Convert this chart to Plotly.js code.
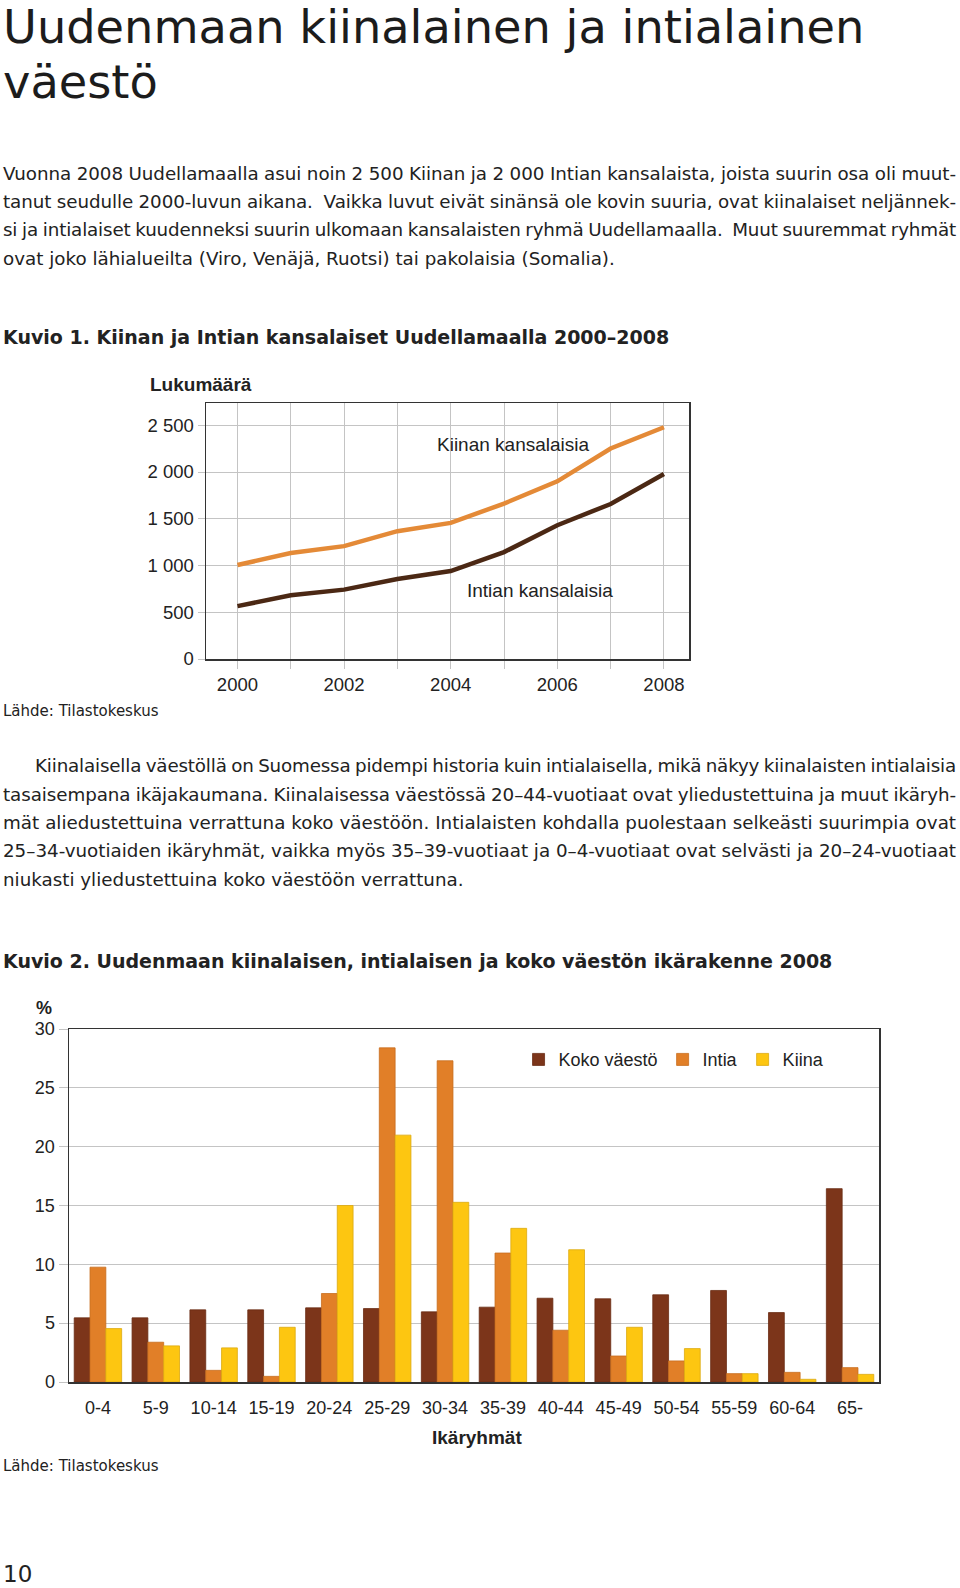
<!DOCTYPE html>
<html>
<head>
<meta charset="utf-8">
<script src="https://cdn.plot.ly/plotly-3.0.1.min.js"></script>
<style>
body { margin: 0; width: 960px; height: 1588px; position: relative; overflow: hidden; background: #fff; color: #222; font-family: "DejaVu Sans", Verdana, sans-serif; }
.t { position: absolute; left: 3px; white-space: nowrap; }
.title { font-size: 46.3px; line-height: 46px; color: #1c1c1c; }
.par { position: absolute; left: 3px; width: 953px; font-size: 18.3px; line-height: 28.33px; }
.par div { white-space: nowrap; }
.kuvio { font-weight: bold; font-size: 19px; line-height: 20px; }
.lahde { font-size: 15px; line-height: 20px; }
.chart { position: absolute; left: 0; width: 960px; }
</style>
</head>
<body>
<div class="t title" style="top:4px">Uudenmaan kiinalainen ja intialainen</div>
<div class="t title" style="top:59px">väestö</div>

<div class="par" style="top:159.6px">
<div class="j">Vuonna 2008 Uudellamaalla asui noin 2 500 Kiinan ja 2 000 Intian kansalaista, joista suurin osa oli muut-</div>
<div class="j">tanut seudulle 2000-luvun aikana.&nbsp; Vaikka luvut eivät sinänsä ole kovin suuria, ovat kiinalaiset neljännek-</div>
<div class="j">si ja intialaiset kuudenneksi suurin ulkomaan kansalaisten ryhmä Uudellamaalla.&nbsp; Muut suuremmat ryhmät</div>
<div>ovat joko lähialueilta (Viro, Venäjä, Ruotsi) tai pakolaisia (Somalia).</div>
</div>

<div class="t kuvio" style="top:327px">Kuvio 1. Kiinan ja Intian kansalaiset Uudellamaalla 2000–2008</div>
<div id="chart1" class="chart" style="top:360px;height:340px"></div>
<div class="t lahde" style="top:701px">Lähde: Tilastokeskus</div>

<div class="par" style="top:752.3px">
<div class="j" style="text-indent:32px">Kiinalaisella väestöllä on Suomessa pidempi historia kuin intialaisella, mikä näkyy kiinalaisten intialaisia</div>
<div class="j">tasaisempana ikäjakaumana. Kiinalaisessa väestössä 20–44-vuotiaat ovat yliedustettuina ja muut ikäryh-</div>
<div class="j">mät aliedustettuina verrattuna koko väestöön. Intialaisten kohdalla puolestaan selkeästi suurimpia ovat</div>
<div class="j">25–34-vuotiaiden ikäryhmät, vaikka myös 35–39-vuotiaat ja 0–4-vuotiaat ovat selvästi ja 20–24-vuotiaat</div>
<div>niukasti yliedustettuina koko väestöön verrattuna.</div>
</div>

<div class="t kuvio" style="top:951px">Kuvio 2. Uudenmaan kiinalaisen, intialaisen ja koko väestön ikärakenne 2008</div>
<div id="chart2" class="chart" style="top:985px;height:470px"></div>
<div class="t lahde" style="top:1456px">Lähde: Tilastokeskus</div>

<div class="t" style="top:1565px;font-size:23px;line-height:18px">10</div>

<script>
// justify each hand-broken line to the text column;
// lines that are too long get a bit of it from letter spacing too
document.querySelectorAll('.j').forEach(function (el) {
    el.style.display = 'inline-block';
    var w = el.getBoundingClientRect().width;
    var txt = el.textContent.trim();
    var spaces = (txt.match(/[ \u00a0]/g) || []).length;
    var extra = 953 - w;
    if (extra < 0) {
        el.style.letterSpacing = (extra * 0.6 / txt.length) + 'px';
        el.style.wordSpacing = (extra * 0.4 / spaces) + 'px';
    } else {
        el.style.wordSpacing = (extra / spaces) + 'px';
    }
    el.style.display = 'block';
});

// Kuvio 1: Kiinan ja Intian kansalaiset 2000-2008
var years = [2000, 2001, 2002, 2003, 2004, 2005, 2006, 2007, 2008];
var yearLabels = ['2000', '', '2002', '', '2004', '', '2006', '', '2008'];
var kiinanKansalaiset = [1005, 1133, 1207, 1367, 1456, 1662, 1900, 2251, 2479];
var intianKansalaiset = [565, 682, 742, 856, 941, 1143, 1431, 1658, 1978];

// Kuvio 2: ikarakenne 2008, %
var ikaryhmat = ['0-4', '5-9', '10-14', '15-19', '20-24', '25-29', '30-34', '35-39', '40-44', '45-49', '50-54', '55-59', '60-64', '65-'];
var kokoVaesto = [5.45, 5.45, 6.13, 6.13, 6.3, 6.24, 5.96, 6.36, 7.12, 7.07, 7.41, 7.78, 5.9, 16.43];
var intia = [9.76, 3.38, 0.99, 0.48, 7.52, 28.4, 27.3, 10.96, 4.4, 2.21, 1.79, 0.71, 0.82, 1.22];
var kiina = [4.54, 3.07, 2.9, 4.65, 15.0, 20.98, 15.27, 13.06, 11.24, 4.65, 2.84, 0.71, 0.23, 0.65];

var fontFamily = '"Liberation Sans", Arial, sans-serif';
var grid = '#c4c4c4';

var data1 = [{
    x: years, y: kiinanKansalaiset, mode: 'lines', name: 'Kiinan kansalaisia',
    line: {color: '#e48a37', width: 4.5}
}, {
    x: years, y: intianKansalaiset, mode: 'lines', name: 'Intian kansalaisia',
    line: {color: '#4b2814', width: 4.5}
}];

var layout1 = {
    width: 960, height: 340,
    margin: {l: 205.6, r: 271.4, t: 43, b: 41},
    font: {family: fontFamily, size: 18.5, color: '#222'},
    separators: ', ',
    showlegend: false,
    plot_bgcolor: 'white', paper_bgcolor: 'rgba(0,0,0,0)',
    xaxis: {
        range: [1999.41, 2008.47],
        tickvals: years, ticktext: yearLabels,
        showgrid: true, gridcolor: grid,
        ticks: 'outside', ticklen: 8, tickcolor: grid,
        showline: true, linecolor: '#333', linewidth: 1.5, mirror: true,
        zeroline: false
    },
    yaxis: {
        range: [0, 2738], dtick: 500, tick0: 0,
        separatethousands: true,
        showgrid: true, gridcolor: grid,
        ticks: 'outside', ticklen: 7, tickcolor: grid,
        showline: true, linecolor: '#333', linewidth: 1.5, mirror: true,
        zeroline: false
    },
    annotations: [
        {xref: 'paper', yref: 'paper', x: -0.1197, y: 1.071, xanchor: 'left', yanchor: 'middle',
            text: '<b>Lukumäärä</b>', showarrow: false, font: {size: 19}},
        {x: 2005.17, y: 2290, text: 'Kiinan kansalaisia', showarrow: false, font: {size: 19}},
        {x: 2005.68, y: 730, text: 'Intian kansalaisia', showarrow: false, font: {size: 19}}
    ]
};

Plotly.newPlot('chart1', data1, layout1, {displayModeBar: false, staticPlot: true});

var data2 = [{
    type: 'bar', x: ikaryhmat, y: kokoVaesto, name: 'Koko väestö',
    marker: {color: '#7c351a', line: {color: '#6a2c14', width: 0.8}}
}, {
    type: 'bar', x: ikaryhmat, y: intia, name: 'Intia',
    marker: {color: '#e17f28', line: {color: '#c86d1e', width: 0.8}}
}, {
    type: 'bar', x: ikaryhmat, y: kiina, name: 'Kiina',
    marker: {color: '#fdc611', line: {color: '#dcaa10', width: 0.8}}
}];

var layout2 = {
    width: 960, height: 470,
    margin: {l: 69, r: 81, t: 44, b: 73},
    font: {family: fontFamily, size: 18, color: '#222'},
    barmode: 'group', bargap: 0.18, bargroupgap: 0,
    plot_bgcolor: 'white', paper_bgcolor: 'rgba(0,0,0,0)',
    legend: {
        orientation: 'h', x: 0.555, y: 0.913, xanchor: 'left', yanchor: 'middle',
        font: {size: 18}, bgcolor: 'rgba(0,0,0,0)'
    },
    xaxis: {
        showgrid: false, ticks: '', ticklabelstandoff: 9,
        showline: true, linecolor: '#333', linewidth: 1.5, mirror: true
    },
    yaxis: {
        range: [0, 30], dtick: 5,
        showgrid: true, gridcolor: grid,
        ticks: 'outside', ticklen: 9, tickcolor: grid,
        showline: true, linecolor: '#333', linewidth: 1.5, mirror: true,
        zeroline: false
    },
    annotations: [
        {xref: 'paper', yref: 'paper', x: -0.0306, y: 1.0587, xanchor: 'center', yanchor: 'middle',
            text: '<b>%</b>', showarrow: false, font: {size: 18}},
        {xref: 'paper', yref: 'paper', x: 0.504, y: -0.158, xanchor: 'center', yanchor: 'middle',
            text: '<b>Ikäryhmät</b>', showarrow: false, font: {size: 19}}
    ]
};

Plotly.newPlot('chart2', data2, layout2, {displayModeBar: false, staticPlot: true});
</script>
</body>
</html>
